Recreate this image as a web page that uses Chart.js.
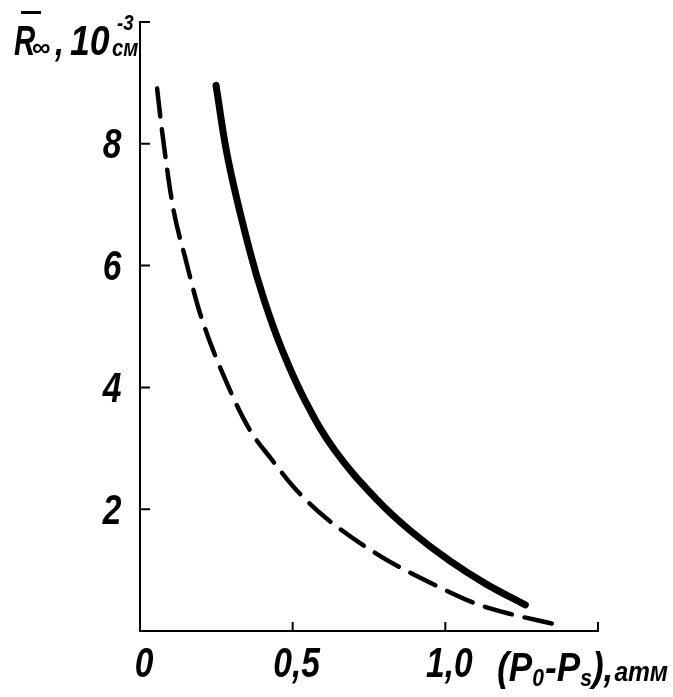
<!DOCTYPE html>
<html>
<head>
<meta charset="utf-8">
<script src="https://cdn.jsdelivr.net/npm/chart.js@4"></script>
<style>
  html, body { margin: 0; padding: 0; background: #fff; }
  #wrap { width: 673px; height: 697px; position: relative; }
</style>
</head>
<body>
<div id="wrap"><canvas id="chart"></canvas></div>
<script>
// --- Data ---
const solidX = [0.249, 0.289, 0.359, 0.407, 0.466, 0.541, 0.639, 0.779, 0.887, 1.015, 1.134, 1.262];
const solidY = [8.96, 7.73, 6.25, 5.43, 4.61, 3.78, 2.96, 2.14, 1.64, 1.15, 0.77, 0.43];

const dashedX = [0.056, 0.072, 0.108, 0.148, 0.197, 0.295, 0.361, 0.426, 0.515, 0.613, 0.787, 0.984, 1.105, 1.213, 1.351];
const dashedY = [8.91, 8.22, 6.96, 6.13, 5.21, 3.95, 3.29, 2.85, 2.30, 1.84, 1.23, 0.71, 0.44, 0.28, 0.12];

const xTicks = [0.5, 1.0, 1.5];
const xTickLabels = ["0", "0,5", "1,0"];
const xLabelValues = [0, 0.5, 1.0];
const yTicks = [2, 4, 6, 8, 10];
const yTickLabels = ["2", "4", "6", "8"];
const yLabelValues = [2, 4, 6, 8];

const FAMILY = "'Liberation Sans', 'DejaVu Sans', sans-serif";
const bi = (px) => `italic bold ${px}px ${FAMILY}`;

const toPoints = (xs, ys) => xs.map((x, i) => ({ x, y: ys[i] }));

// text squeezed horizontally, to get the narrow lettering of the original
function squeezed(ctx, text, x, y, font, sx) {
  ctx.save();
  ctx.font = font;
  const w = ctx.measureText(text).width * sx;
  ctx.translate(x, y);
  ctx.scale(sx, 1);
  ctx.fillText(text, 0, 0);
  ctx.restore();
  return w;
}

// inward ticks, tick labels and the two axis titles
const axisDecor = {
  id: "axisDecor",
  afterDraw(chart) {
    const { ctx, chartArea: a, scales } = chart;
    const xs = scales.x, ys = scales.y;
    ctx.save();
    ctx.strokeStyle = "#000";
    ctx.lineWidth = 2;
    ctx.beginPath();
    xTicks.forEach((v) => {
      const px = xs.getPixelForValue(v);
      ctx.moveTo(px, a.bottom);
      ctx.lineTo(px, a.bottom - 9);
    });
    yTicks.forEach((v) => {
      const py = ys.getPixelForValue(v);
      ctx.moveTo(a.left, py);
      ctx.lineTo(a.left + 10, py);
    });
    ctx.stroke();

    ctx.fillStyle = "#000";
    ctx.textAlign = "center";
    ctx.textBaseline = "middle";
    xLabelValues.forEach((v, i) => {
      squeezed(ctx, xTickLabels[i], xs.getPixelForValue(v) + 4, a.bottom + 34, bi(42), 0.8);
    });
    yLabelValues.forEach((v, i) => {
      squeezed(ctx, yTickLabels[i], 112, ys.getPixelForValue(v) + 3, bi(42), 0.8);
    });

    // y title: R-bar with infinity subscript, 10^-3 cm
    ctx.textAlign = "left";
    ctx.textBaseline = "alphabetic";
    squeezed(ctx, "R", 14, 55, bi(42), 0.7);
    ctx.fillRect(21, 11, 20, 3);
    squeezed(ctx, "∞", 32, 56, `bold 26px ${FAMILY}`, 1.0);
    squeezed(ctx, ",", 55, 55, bi(40), 0.8);
    squeezed(ctx, "10", 70, 55, bi(42), 0.85);
    squeezed(ctx, "-3", 117, 30, bi(22), 0.85);
    squeezed(ctx, "см", 112, 56, bi(24), 0.85);

    // x title
    let x = 497;
    const base = 681;
    x += squeezed(ctx, "(P", x, base, bi(40), 0.88);
    x += squeezed(ctx, "0", x, base + 5, bi(24), 0.88);
    x += squeezed(ctx, "-P", x + 1, base, bi(40), 0.88) + 1;
    x += squeezed(ctx, "s", x, base + 5, bi(24), 0.88);
    x += squeezed(ctx, "),", x, base, bi(40), 0.88);
    squeezed(ctx, "атм", x + 1, base, bi(28), 0.88);
    ctx.restore();
  }
};

new Chart(document.getElementById("chart"), {
  type: "line",
  data: {
    datasets: [
      {
        label: "solid",
        data: toPoints(solidX, solidY),
        borderColor: "#000",
        borderWidth: 7,
        borderCapStyle: "round",
        pointRadius: 0,
        tension: 0.4,
        fill: false
      },
      {
        label: "dashed",
        data: toPoints(dashedX, dashedY),
        borderColor: "#000",
        borderWidth: 4.5,
        borderDash: [28, 13],
        borderCapStyle: "round",
        pointRadius: 0,
        cubicInterpolationMode: "monotone",
        fill: false
      }
    ]
  },
  options: {
    responsive: true,
    maintainAspectRatio: false,
    animation: false,
    layout: { padding: { left: 140, right: 75, top: 22, bottom: 66 } },
    scales: {
      x: {
        type: "linear",
        min: 0,
        max: 1.5,
        ticks: { display: false },
        grid: { display: false, drawTicks: false },
        border: { display: true, color: "#000", width: 2 }
      },
      y: {
        type: "linear",
        min: 0,
        max: 10,
        ticks: { display: false },
        grid: { display: false, drawTicks: false },
        border: { display: true, color: "#000", width: 2 }
      }
    },
    plugins: {
      legend: { display: false },
      tooltip: { enabled: false }
    }
  },
  plugins: [axisDecor]
});
</script>
</body>
</html>
